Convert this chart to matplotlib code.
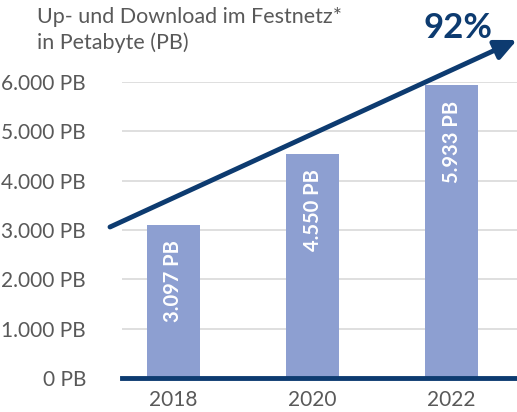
import matplotlib
matplotlib.use("Agg")
import matplotlib.pyplot as plt

years = ["2018", "2020", "2022"]
values = [3097, 4550, 5933]
labels = ["3.097 PB", "4.550 PB", "5.933 PB"]
yticks = [0, 1000, 2000, 3000, 4000, 5000, 6000]
ytick_labels = ["0 PB", "1.000 PB", "2.000 PB", "3.000 PB", "4.000 PB", "5.000 PB", "6.000 PB"]
growth = "92%"
title = "Up- und Download im Festnetz*\nin Petabyte (PB)"

plt.rcParams['font.family'] = ['Lato', 'DejaVu Sans']
GRAY = "#595959"
BAR = "#8d9fd1"
DARK = "#0d3b70"

W, H = 517, 412
fig = plt.figure(figsize=(W / 100, H / 100), dpi=100)
ax = fig.add_axes([122 / W, 1 - 378 / H, (W - 122) / W, (378 - 82) / H])

x = list(range(len(years)))
ax.bar(x, values, width=0.38, color=BAR, zorder=2)
ax.set_xlim(-0.37, 2.47)
ax.set_ylim(0, 6000)
ax.set_yticks(yticks)
ax.set_yticklabels(ytick_labels, fontsize=15, color=GRAY)
ax.set_xticks(x)
ax.set_xticklabels(years, fontsize=15, color=GRAY)
ax.tick_params(axis='y', length=0, pad=26)
ax.tick_params(axis='x', length=0, pad=9)
for s in ax.spines.values():
    s.set_visible(False)
ax.grid(axis='y', color="#d9d9d9", linewidth=1.2, zorder=0)
ax.axhline(0, color=DARK, linewidth=3.5, zorder=3, clip_on=False)

for xi, v, lab in zip(x, values, labels):
    ax.annotate(lab, (xi, v), xytext=(0, -11), textcoords='offset points',
                rotation=90, ha='center', va='top', color='white',
                fontsize=14.5, fontweight='bold', zorder=4)

fig.text(37 / W, 1 - 7 / H, title, ha='left', va='top', fontsize=15.5,
         color=GRAY, linespacing=1.35)

ax.annotate("", xy=(517 / W, 1 - 40 / H), xytext=(110 / W, 1 - 227 / H),
            xycoords='figure fraction', textcoords='figure fraction',
            arrowprops=dict(arrowstyle='-|>,head_length=1.3,head_width=0.6',
                            color=DARK, lw=3.5, shrinkA=0, shrinkB=0),
            annotation_clip=False, zorder=5)
fig.text(458 / W, 1 - 28 / H, growth, ha='center', va='center', fontsize=25,
         fontweight='bold', color=DARK)

fig.savefig("out.png", dpi=100)
